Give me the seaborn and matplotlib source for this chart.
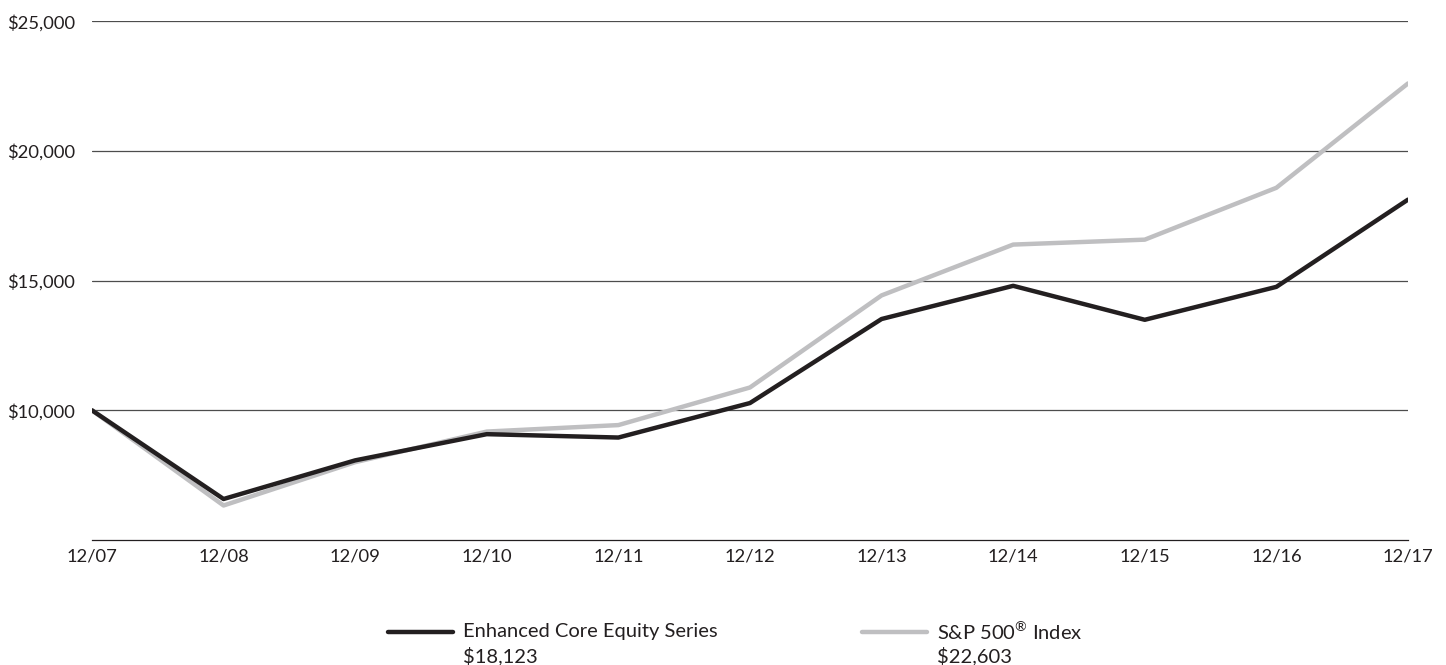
import pandas as pd
import matplotlib.pyplot as plt
from matplotlib.lines import Line2D
import seaborn as sns

# values
periods = ['12/07', '12/08', '12/09', '12/10', '12/11', '12/12',
           '12/13', '12/14', '12/15', '12/16', '12/17']
fund = [10000, 6580, 8070, 9080, 8950, 10280, 13520, 14800, 13490, 14760, 18123]
index = [10000, 6330, 8000, 9180, 9430, 10880, 14430, 16390, 16580, 18580, 22603]
series_names = ['Enhanced Core Equity Series', r'S&P 500$^{\mathregular{®}}$ Index']
colors = ['#231F20', '#BFBFC1']
y_ticks = [10000, 15000, 20000, 25000]

df = pd.DataFrame({
    'x': list(range(len(periods))) * 2,
    'value': fund + index,
    'series': [series_names[0]] * len(fund) + [series_names[1]] * len(index),
})

sns.set_theme(style='white')
plt.rcParams['font.family'] = ['Lato', 'DejaVu Sans']

fig = plt.figure(figsize=(14.46, 6.65), dpi=100)
ax = fig.add_axes([0.0636, 0.188, 0.9101, 0.780])

# grey index drawn first so the fund line sits on top
sns.lineplot(data=df[df.series == series_names[1]], x='x', y='value',
             color=colors[1], linewidth=3.2, ax=ax, legend=False)
sns.lineplot(data=df[df.series == series_names[0]], x='x', y='value',
             color=colors[0], linewidth=3.2, ax=ax, legend=False)

ax.set_xlim(0, len(periods) - 1)
ax.set_ylim(5000, 25000)
ax.set_xticks(range(len(periods)))
ax.set_xticklabels(periods)
ax.set_yticks(y_ticks)
ax.set_yticklabels([f'${v:,.0f}' for v in y_ticks])
ax.tick_params(axis='both', labelsize=13.2, colors='#231F20', length=0)
ax.tick_params(axis='x', pad=6)
ax.tick_params(axis='y', pad=12)
ax.set_xlabel('')
ax.set_ylabel('')
for v in y_ticks:
    ax.axhline(v, color='#4D4D4D', linewidth=0.9, zorder=0)
for s in ['top', 'right', 'left']:
    ax.spines[s].set_visible(False)
ax.spines['bottom'].set_color('#231F20')
ax.spines['bottom'].set_linewidth(0.9)

# legend: handle next to the name, final value on a second line
finals = [fund[-1], index[-1]]
leg_x = [0.268, 0.596]
for i in range(2):
    x0 = leg_x[i]
    fig.add_artist(Line2D([x0, x0 + 0.045], [0.050, 0.050], color=colors[i],
                          linewidth=3.2, transform=fig.transFigure))
    fig.text(x0 + 0.052, 0.050, series_names[i], fontsize=14.5,
             color='#231F20', va='center', ha='left')
    fig.text(x0 + 0.052, 0.014, '\\$' + f'{finals[i]:,}', fontsize=14.5,
             color='#231F20', va='center', ha='left')

fig.savefig('out.png', dpi=100)
